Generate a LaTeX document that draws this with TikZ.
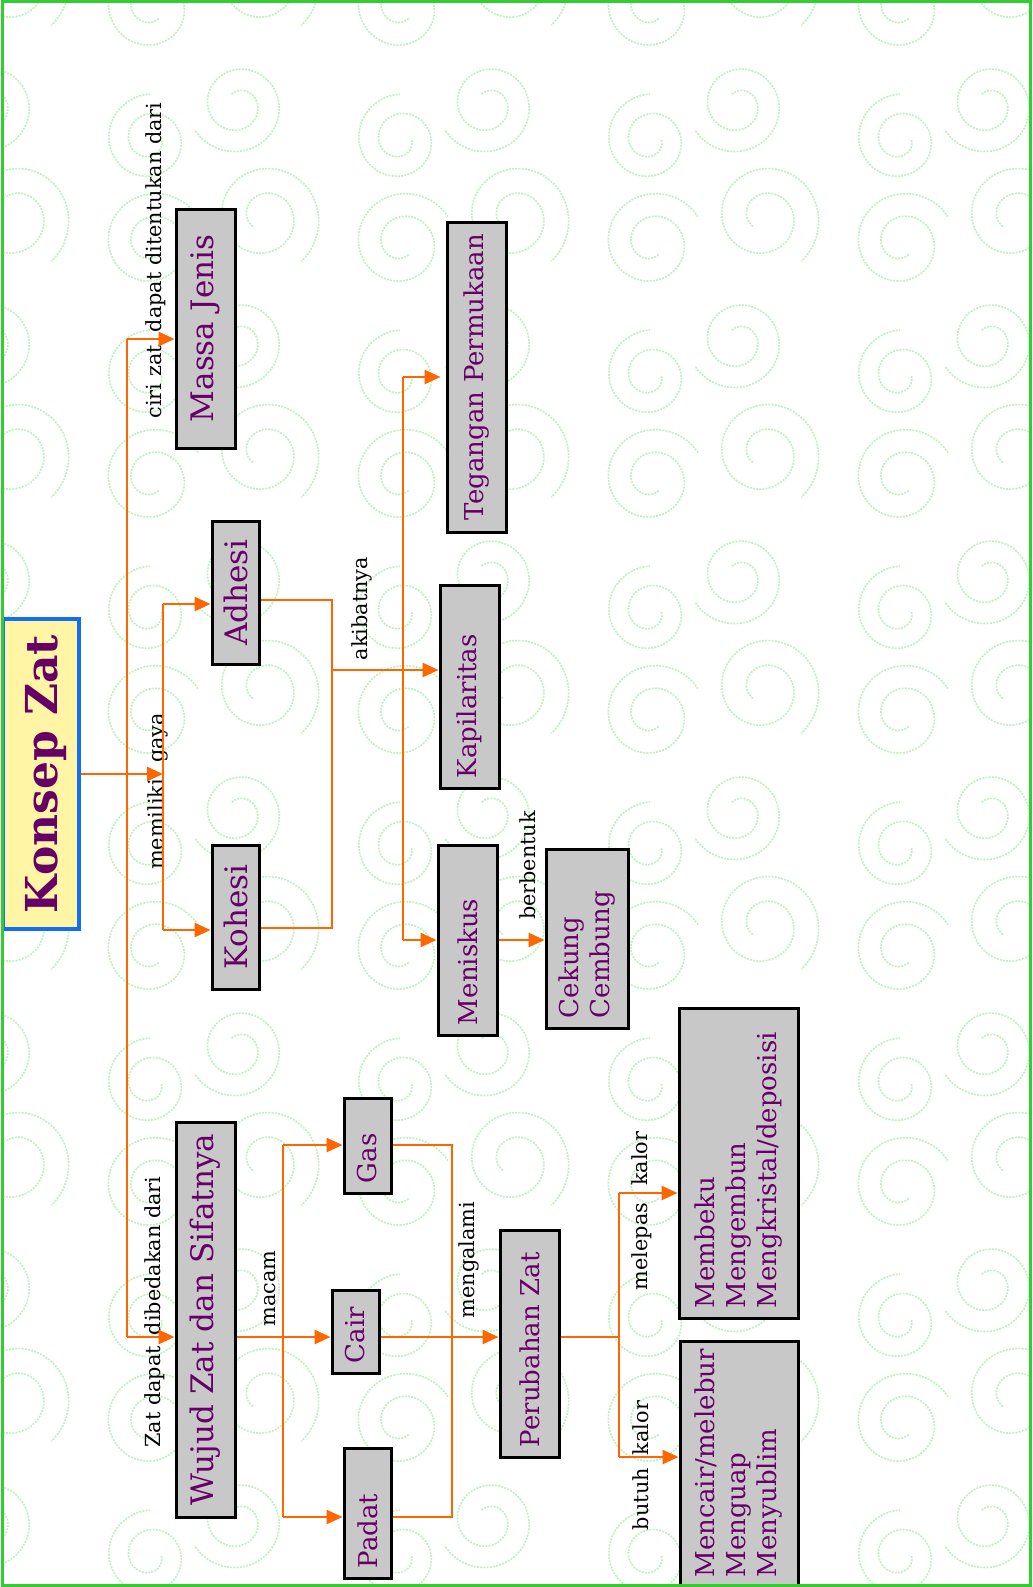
\documentclass[tikz,border=0pt]{standalone}
\usepackage{fontspec}
\usetikzlibrary{arrows.meta}
\newfontfamily\boxfont{DejaVu Serif}
\newfontfamily\lblfont{DejaVu Serif}
\definecolor{zorange}{RGB}{255,102,0}
\definecolor{zpurple}{RGB}{102,0,102}
\definecolor{zgray}{RGB}{200,200,200}
\definecolor{zgreen}{RGB}{51,204,51}
\definecolor{zswirl}{RGB}{188,242,188}
\definecolor{zblue}{RGB}{20,110,240}
\definecolor{zyellow}{RGB}{255,245,165}
\begin{document}
\begin{tikzpicture}[x=1pt,y=-1pt,
  box/.style={draw=black, line width=3pt, fill=zgray, rotate=90, inner sep=0pt,
    text=zpurple, font=\boxfont\fontsize{26}{31}\selectfont, align=left},
  bigbox/.style={box, font=\boxfont\fontsize{31}{36}\selectfont, align=center},
  lbl/.style={rotate=90, inner sep=0pt, font=\lblfont\fontsize{20.8}{25}\selectfont, text=black},
  arr/.style={draw=zorange, line width=2.6pt, -{Triangle[length=16pt,width=14pt]}},
  ln/.style={draw=zorange, line width=2.4pt},
  swirl/.style={draw=zswirl, line width=1.6pt, dash pattern=on 2pt off 1.2pt},
  spiral/.pic={\draw[swirl] plot[domain=0:630, samples=60, smooth, variable=\t]
      ({(0.25+0.75*\t/630)*cos(\t)}, {(0.25+0.75*\t/630)*sin(\t)});},
]
\useasboundingbox (0,0) rectangle (1033,1587);
\fill[white] (0,0) rectangle (1033,1587);

% background swirls
\begin{scope}
\clip (3,3) rectangle (1030,1584);
\foreach \tx in {-100,150,400,650,900} {
  \foreach \ty in {-96,140,376,612,848,1084,1320,1556} {
    \pic[shift={(\tx,\ty)}, scale=46] {spiral};
    \pic[shift={(\tx+88,\ty-35)}, rotate=120, scale=50] {spiral};
    \pic[shift={(\tx+114,\ty+77)}, rotate=220, scale=58] {spiral};
    \pic[shift={(\tx+2,\ty+103)}, rotate=300, scale=53] {spiral};
  }
}
\end{scope}

% nodes
\node[draw=zblue, line width=3.2pt, fill=zyellow, rotate=90, inner sep=0pt,
  minimum width=310pt, minimum height=76pt, text=zpurple, text depth=0pt,
  font=\boxfont\bfseries\fontsize{44}{50}\selectfont] (konsep) at (41,774) {Konsep Zat};

\node[bigbox, minimum width=239pt, minimum height=59pt, text width=219pt] (massa) at (205.5,328.5) {\mbox{Massa Jenis}};
\node[bigbox, minimum width=143pt, minimum height=47pt, text width=123pt] (adhesi) at (235.5,592.5) {Adhesi};
\node[bigbox, minimum width=144pt, minimum height=47pt, text width=124pt] (kohesi) at (235.5,917) {Kohesi};
\node[bigbox, minimum width=395pt, minimum height=59pt, text width=375pt] (wujud) at (205.5,1319.5) {\mbox{Wujud Zat dan Sifatnya}};

\node[box, align=center, minimum width=310pt, minimum height=59pt, text width=290pt] (tegangan) at (476.5,377) {\mbox{Tegangan Permukaan}};
\node[box, minimum width=203pt, minimum height=59pt, text width=183pt] (kapil) at (469.5,686.5) {Kapilaritas};
\node[box, minimum width=190pt, minimum height=59pt, text width=170pt] (menis) at (467.5,940) {Meniskus};
\node[box, minimum width=179pt, minimum height=82pt, text width=159pt] (cekung) at (587,938.5) {Cekung\\Cembung};

\node[box, minimum width=95pt, minimum height=47pt, text width=75pt] (gas) at (367.5,1145.5) {Gas};
\node[box, minimum width=83pt, minimum height=47pt, text width=63pt] (cair) at (355.5,1331.5) {Cair};
\node[box, minimum width=130pt, minimum height=47pt, text width=110pt] (padat) at (367.5,1513) {Padat};
\node[box, minimum width=227pt, minimum height=59pt, text width=207pt] (perubahan) at (529.5,1343.5) {\mbox{Perubahan Zat}};

\node[box, minimum width=310pt, minimum height=119pt, text width=290pt] (membeku) at (738.5,1163)
  {\mbox{Membeku}\\\mbox{Mengembun}\\\mbox{Mengkristal/deposisi}};
\node[box, minimum width=246pt, minimum height=118pt, text width=226pt] (mencair) at (739,1464)
  {\mbox{Mencair/melebur}\\\mbox{Menguap}\\\mbox{Menyublim}};

% labels
\node[lbl] (l1) at (156,260.5) {ciri zat\hspace{13pt}dapat ditentukan dari};
\node[lbl] (l2) at (158,791.5) {memiliki\hspace{16pt}gaya};
\node[lbl] (l3) at (361.5,608.5) {akibatnya};
\node[lbl] (l4) at (527.5,865.5) {berbentuk};
\node[lbl] (l5) at (155,1312) {Zat dapat\hspace{11pt}dibedakan dari};
\node[lbl] (l6) at (270,1288.5) {macam};
\node[lbl] (l7) at (469,1260) {mengalami};
\node[lbl] (l8) at (641.5,1211) {melepas\hspace{17pt}kalor};
\node[lbl] (l9) at (640.5,1465.5) {butuh\hspace{13pt}kalor};

% junction coordinates
\coordinate (jk) at (163,774);
\coordinate (mt) at (127,339);
\coordinate (wt) at (127,1337);
\coordinate (ga) at (163,604);
\coordinate (gk) at (163,930);
\coordinate (aa) at (332,600);
\coordinate (ak) at (332,928);
\coordinate (am) at (332,670);
\coordinate (tt) at (403,377);
\coordinate (tm) at (403,940);
\coordinate (mc) at (283,1337);
\coordinate (mg) at (283,1145);
\coordinate (mp) at (283,1517);
\coordinate (eg) at (452,1145);
\coordinate (ep) at (452,1517);
\coordinate (pc) at (619,1337);
\coordinate (pm) at (619,1193);
\coordinate (pn) at (619,1457);

% connectors
\draw[ln] (mt) -- (wt);
\draw[arr] (konsep.south) -- (jk);
\draw[arr] (mt) -- (massa.north |- mt);
\draw[arr] (wt) -- (wujud.north |- wt);

\draw[ln] (ga) -- (gk);
\draw[arr] (ga) -- (adhesi.north |- ga);
\draw[arr] (gk) -- (kohesi.north |- gk);

\draw[ln] (adhesi.south |- aa) -- (aa) -- (ak) -- (kohesi.south |- ak);
\draw[ln] (tt) -- (tm);
\draw[arr] (am) -- (kapil.north |- am);
\draw[arr, shorten >=5pt] (tt) -- (tegangan.north |- tt);
\draw[arr] (tm) -- (menis.north |- tm);
\draw[arr] (menis.south |- tm) -- (cekung.north |- tm);

\draw[ln] (mg) -- (mp);
\draw[arr] (wujud.south |- mc) -- (cair.north |- mc);
\draw[arr] (mg) -- (gas.north |- mg);
\draw[arr] (mp) -- (padat.north |- mp);
\draw[ln] (gas.south |- eg) -- (eg) -- (ep) -- (padat.south |- ep);
\draw[arr] (cair.south |- mc) -- (perubahan.north |- mc);

\draw[ln] (perubahan.south |- pc) -- (pc);
\draw[ln] (pm) -- (pn);
\draw[arr] (pm) -- (membeku.north |- pm);
\draw[arr] (pn) -- (mencair.north |- pn);

% outer border
\draw[zgreen, line width=3pt] (2.5,2) rectangle (1030.5,1585.5);
\end{tikzpicture}
\end{document}
